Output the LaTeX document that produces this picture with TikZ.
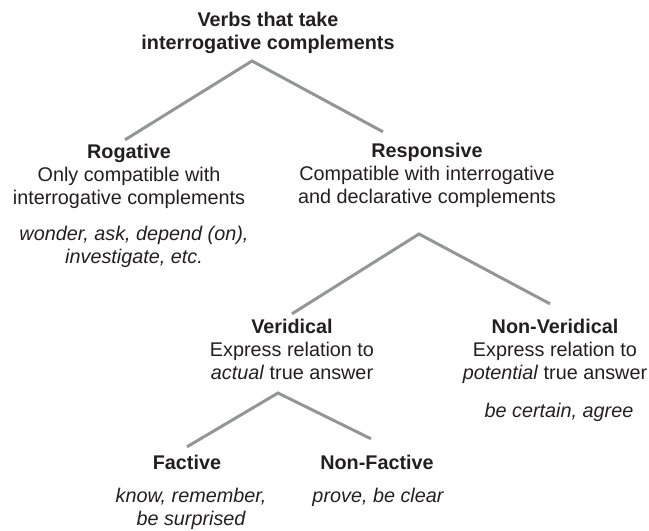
\documentclass[tikz,border=0pt]{standalone}
\usepackage{fontspec}
\setmainfont{Liberation Sans}
\usepackage{xcolor}
\definecolor{inkTree}{HTML}{231F20}
\definecolor{grayTree}{HTML}{939598}
\usepackage{tikz}
\usetikzlibrary{calc}
\begin{document}
\begin{tikzpicture}[
 verbs/.style={anchor=north,inner sep=0pt,align=center,text=inkTree,
 font=\fontsize{11.27pt}{13.08pt}\selectfont},
 examples/.style={verbs,font=\fontsize{11.27pt}{13.08pt}\selectfont\itshape},
 branch/.style={draw=grayTree,line width=1.7pt}]
 \useasboundingbox (0,0) rectangle (12.98,-10.62);
 \node[verbs] (top) at (5.36,-0.236) {\textbf{Verbs that take}\\\textbf{interrogative complements}};
 \node[verbs] (rog) at (2.58,-2.876) {\textbf{Rogative}\\Only compatible with\\interrogative complements};
 \node[examples] (rogex) at (2.68,-4.512) {wonder, ask, depend (on),\\investigate, etc.};
 \node[verbs] (resp) at (8.54,-2.856) {\textbf{Responsive}\\Compatible with interrogative\\and declarative complements};
 \node[verbs] (ver) at (5.84,-6.376) {\textbf{Veridical}\\Express relation to\\\textit{actual} true answer};
 \node[verbs] (nonver) at (11.10,-6.376) {\textbf{Non-Veridical}\\Express relation to\\\textit{potential} true answer};
 \node[examples] (nonverex) at (11.18,-8.056) {be certain, agree};
 \node[verbs] (fac) at (3.74,-9.096) {\textbf{Factive}};
 \node[examples] (facex) at (3.82,-9.756) {know, remember,\\be surprised};
 \node[verbs] (nonfac) at (7.54,-9.096) {\textbf{Non-Factive}};
 \node[examples] (nonfacex) at (7.56,-9.756) {prove, be clear};
 \coordinate (forkA) at (5.04,-1.22);
 \coordinate (forkB) at (8.38,-4.68);
 \coordinate (forkC) at (5.56,-7.86);
 \draw[branch] ($(rog.north)+(-0.08,0.08)$)--(forkA)--($(resp.north)+(-0.88,0.22)$);
 \draw[branch] ($(ver.north)+(0,0.1)$)--(forkB)--($(nonver.north)+(-0.1,0.3)$);
 \draw[branch] ($(fac.north)+(0,0.16)$)--(forkC)--($(nonfac.north)+(-0.12,0.32)$);
\end{tikzpicture}
\end{document}
